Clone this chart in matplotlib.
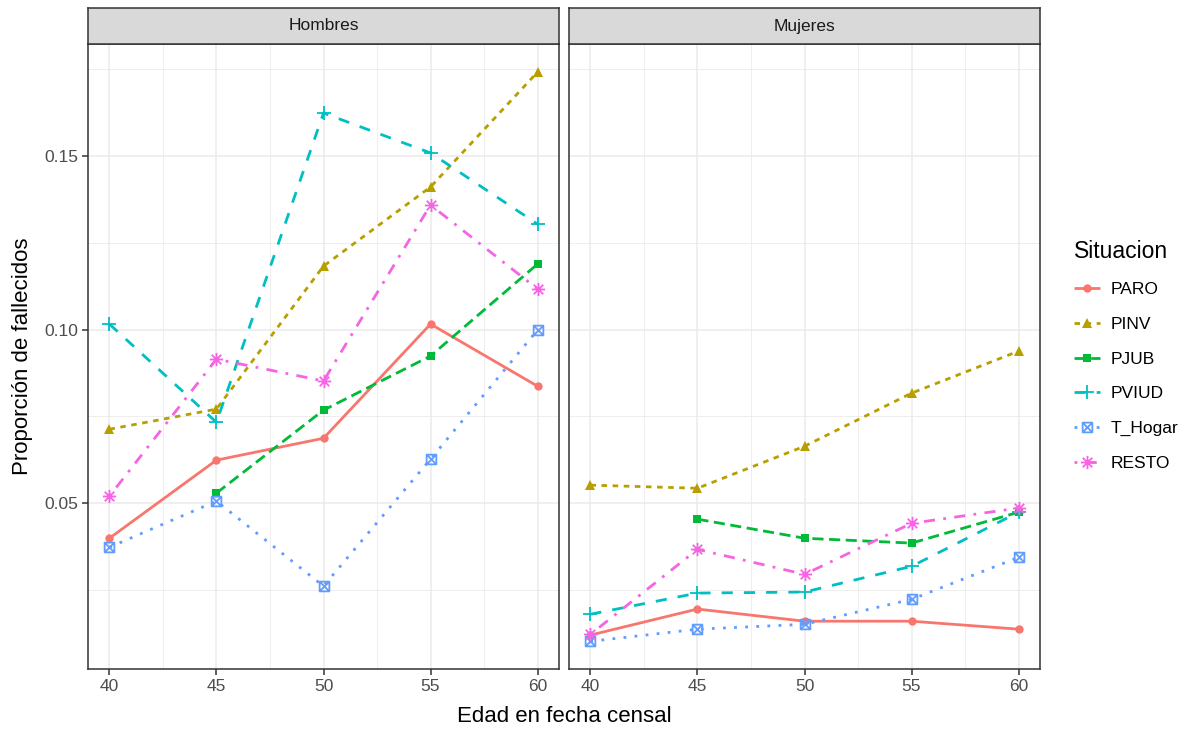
import numpy as np
import matplotlib.pyplot as plt
from matplotlib.path import Path
from matplotlib.lines import Line2D

plt.rcParams['font.family'] = ['Liberation Sans', 'DejaVu Sans']

edades = [40, 45, 50, 55, 60]
situaciones = ['PARO', 'PINV', 'PJUB', 'PVIUD', 'T_Hogar', 'RESTO']

# Hombres
hom_paro = [0.0399, 0.0624, 0.0687, 0.1016, 0.0837]
hom_pinv = [0.0713, 0.0771, 0.1183, 0.1411, 0.1742]
hom_pjub = [np.nan, 0.0529, 0.0768, 0.0924, 0.1189]
hom_pviud = [0.1016, 0.0733, 0.1624, 0.1509, 0.1304]
hom_thogar = [0.0373, 0.0506, 0.0261, 0.0627, 0.0999]
hom_resto = [0.0520, 0.0915, 0.0852, 0.1359, 0.1117]

# Mujeres
muj_paro = [0.0120, 0.0195, 0.0160, 0.0160, 0.0137]
muj_pinv = [0.0552, 0.0543, 0.0664, 0.0817, 0.0938]
muj_pjub = [np.nan, 0.0454, 0.0399, 0.0385, 0.0474]
muj_pviud = [0.0180, 0.0241, 0.0244, 0.0318, 0.0474]
muj_thogar = [0.0102, 0.0137, 0.0151, 0.0223, 0.0344]
muj_resto = [0.0122, 0.0367, 0.0295, 0.0442, 0.0486]

paneles = ['Hombres', 'Mujeres']
datos = {
    'Hombres': [hom_paro, hom_pinv, hom_pjub, hom_pviud, hom_thogar, hom_resto],
    'Mujeres': [muj_paro, muj_pinv, muj_pjub, muj_pviud, muj_thogar, muj_resto],
}

colores = ['#F8766D', '#B79F00', '#00BA38', '#00BFC4', '#619CFF', '#F564E3']
guiones = [None, (2, 2), (4, 2), (4, 4), (1, 3), (1, 3, 4, 3)]

# square with cross (pch 7) and asterisk (pch 8)
cuadro_x = Path([(-1, -1), (1, -1), (1, 1), (-1, 1), (-1, -1),
                 (-1, -1), (1, 1), (-1, 1), (1, -1)],
                [Path.MOVETO, Path.LINETO, Path.LINETO, Path.LINETO, Path.CLOSEPOLY,
                 Path.MOVETO, Path.LINETO, Path.MOVETO, Path.LINETO])
asterisco = Path([(0, -1), (0, 1), (-1, 0), (1, 0),
                  (-0.72, -0.72), (0.72, 0.72), (-0.72, 0.72), (0.72, -0.72)],
                 [Path.MOVETO, Path.LINETO, Path.MOVETO, Path.LINETO,
                  Path.MOVETO, Path.LINETO, Path.MOVETO, Path.LINETO])
marcas = ['o', '^', 's', '+', cuadro_x, asterisco]
tam_marca = [6, 6.5, 6, 10, 7, 9.5]
hueca = [False, False, False, True, True, True]


def estilo(i):
    kw = dict(color=colores[i], lw=2.0, marker=marcas[i], ms=tam_marca[i],
              solid_capstyle='butt', dash_capstyle='butt')
    if guiones[i] is not None:
        kw['dashes'] = guiones[i]
    if hueca[i]:
        kw['markerfacecolor'] = 'none'
        kw['markeredgewidth'] = 1.3
    else:
        kw['markeredgewidth'] = 0
    return kw


fig = plt.figure(figsize=(11.97, 7.29), dpi=100)
W, H = 1197, 729
bordes = [(88, 559), (569, 1040)]
y_top, y_bot, y_strip = 44, 669, 8

for p, (panel, (x0, x1)) in enumerate(zip(paneles, bordes)):
    ax = fig.add_axes([x0 / W, 1 - y_bot / H, (x1 - x0) / W, (y_bot - y_top) / H])
    ax.set_xlim(39, 61)
    ax.set_ylim(0.00223, 0.18228)
    ax.set_xticks(edades)
    ax.set_xticks([42.5, 47.5, 52.5, 57.5], minor=True)
    ax.set_yticks([0.05, 0.10, 0.15])
    ax.set_yticks([0.025, 0.075, 0.125, 0.175], minor=True)
    ax.grid(which='major', color='#EBEBEB', lw=1.1)
    ax.grid(which='minor', color='#EBEBEB', lw=0.6)
    ax.set_axisbelow(True)
    for s in ax.spines.values():
        s.set_color('#333333')
        s.set_linewidth(1.1)
    ax.tick_params(which='major', length=4, width=1.1, color='#333333',
                   labelcolor='#4D4D4D', labelsize=12.5, pad=3)
    ax.tick_params(which='minor', length=0)
    if p == 0:
        ax.set_yticklabels(['0.05', '0.10', '0.15'])
        ax.set_ylabel('Proporción de fallecidos', fontsize=16, color='black', labelpad=8)
    else:
        ax.tick_params(axis='y', which='both', left=False, labelleft=False)

    for i, serie in enumerate(datos[panel]):
        ax.plot(edades, serie, **estilo(i))

    # strip header
    st = fig.add_axes([x0 / W, 1 - y_top / H, (x1 - x0) / W, (y_top - y_strip) / H])
    st.set_facecolor('#D9D9D9')
    st.set_xticks([])
    st.set_yticks([])
    for s in st.spines.values():
        s.set_color('#333333')
        s.set_linewidth(1.1)
    st.text(0.5, 0.5, panel, ha='center', va='center', fontsize=12.5, color='#1A1A1A',
            transform=st.transAxes)

fig.text((88 + 1040) / 2 / W, 1 - 717 / H, 'Edad en fecha censal', ha='center', va='center',
         fontsize=16)

manijas = [Line2D([], [], **estilo(i)) for i in range(len(situaciones))]
leg = fig.legend(manijas, situaciones, loc='upper left', bbox_to_anchor=(1060 / W, 1 - 226 / H),
                 frameon=False, title='Situacion', title_fontsize=16.5, fontsize=12.5,
                 handlelength=1.5, handletextpad=0.6, labelspacing=1.12, alignment='left',
                 borderpad=0.3)

fig.savefig('out.png', dpi=100)
